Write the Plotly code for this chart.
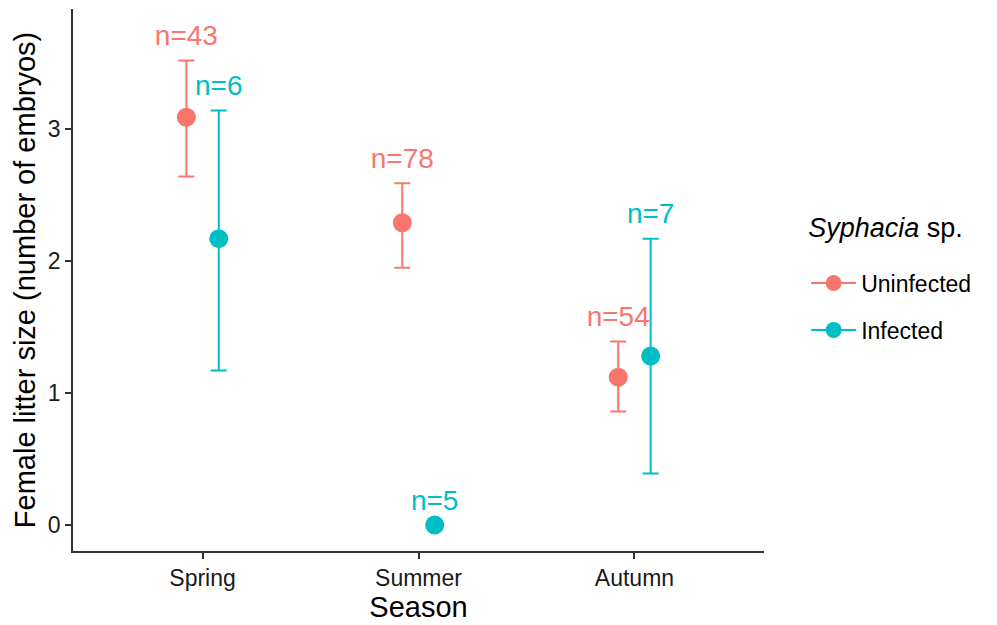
import plotly.graph_objects as go

seasons = ["Spring", "Summer", "Autumn"]
season_pos = [1, 2, 3]
groups = ["Uninfected", "Infected"]
colors = {"Uninfected": "#F8766D", "Infected": "#00BFC4"}
dodge = {"Uninfected": -0.075, "Infected": 0.075}

means = {"Uninfected": [3.09, 2.29, 1.12], "Infected": [2.17, 0.0, 1.28]}
upper = {"Uninfected": [3.52, 2.59, 1.39], "Infected": [3.14, 0.0, 2.17]}
lower = {"Uninfected": [2.64, 1.95, 0.86], "Infected": [1.17, 0.0, 0.39]}
n_labels = {"Uninfected": ["n=43", "n=78", "n=54"], "Infected": ["n=6", "n=5", "n=7"]}

FONT = "Liberation Sans, Arial, sans-serif"
fig = go.Figure()

for g in groups:
    xs = [p + dodge[g] for p in season_pos]
    m = means[g]
    fig.add_trace(go.Scatter(
        x=xs, y=m, mode="markers", showlegend=False,
        marker=dict(color=colors[g], size=19),
        error_y=dict(type="data", symmetric=False,
                     array=[u - v for u, v in zip(upper[g], m)],
                     arrayminus=[v - l for v, l in zip(m, lower[g])],
                     color=colors[g], thickness=2, width=8),
        hoverinfo="skip",
    ))
    fig.add_trace(go.Scatter(
        x=xs, y=[u + 0.17 for u in upper[g]], mode="text",
        text=n_labels[g], showlegend=False,
        textfont=dict(color=colors[g], size=28, family=FONT),
        hoverinfo="skip",
    ))

for g in groups:
    fig.add_trace(go.Scatter(
        x=[None], y=[None], mode="lines+markers", name=g, legendgroup=g,
        marker=dict(color=colors[g], size=19),
        line=dict(color=colors[g], width=2),
    ))

axis_common = dict(
    showline=True, linecolor="#333333", linewidth=1.5,
    ticks="outside", ticklen=6, tickcolor="#333333", tickwidth=1.5,
    showgrid=False, zeroline=False, automargin=False,
    tickfont=dict(size=23, color="#1a1a1a", family=FONT),
)

fig.update_layout(
    width=989, height=617,
    margin=dict(l=65, r=233, t=1, b=74),
    plot_bgcolor="white", paper_bgcolor="white",
    font=dict(family=FONT, color="#000000"),
    xaxis=dict(range=[0.4, 3.6], tickvals=season_pos, ticktext=seasons,
               title=dict(text="Season", font=dict(size=29), standoff=2),
               **axis_common),
    yaxis=dict(range=[-0.197, 3.91], tickvals=[0, 1, 2, 3],
               title=dict(text="Female litter size (number of embryos)", font=dict(size=29), standoff=4),
               **axis_common),
    legend=dict(
        title=dict(text="<span style='font-size:27px'><i>Syphacia</i> sp.</span><br> ",
                   font=dict(size=19)),
        x=1.061, y=0.625, xanchor="left", yanchor="top",
        font=dict(size=23), itemwidth=45, tracegroupgap=14,
    ),
)

fig.write_html("out.html")
